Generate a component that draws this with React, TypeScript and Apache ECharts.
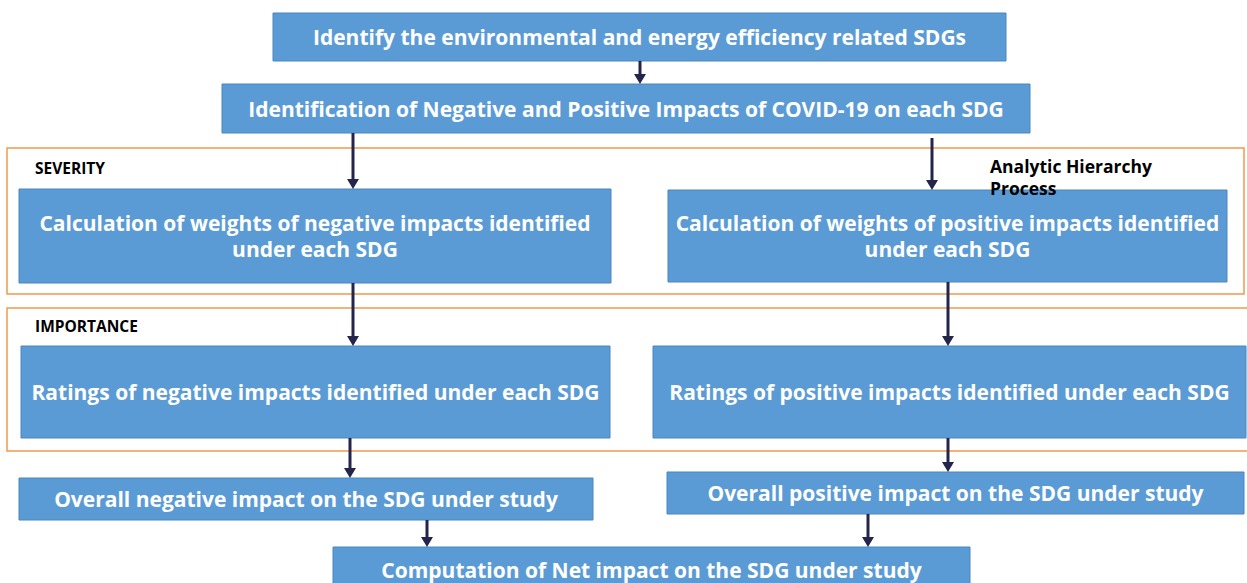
import React, { useEffect, useRef } from "react";
import * as echarts from "echarts";

// Flowchart content
const boxTexts: string[][] = [
  ["Identify the environmental and energy efficiency related SDGs"],
  ["Identification of Negative and Positive Impacts of COVID-19 on each SDG"],
  ["Calculation of weights of negative impacts identified", "under each SDG"],
  ["Calculation of weights of positive impacts identified", "under each SDG"],
  ["Ratings of negative impacts identified under each SDG"],
  ["Ratings of positive impacts identified under each SDG"],
  ["Overall negative impact on the SDG under study"],
  ["Overall positive impact on the SDG under study"],
  ["Computation of Net impact on the SDG under study"],
];
const groupLabels: string[] = ["SEVERITY", "IMPORTANCE"];
const sideNote: string[] = ["Analytic Hierarchy", "Process"];

// layout (x, y, w, h) for each box
const boxLayout: number[][] = [
  [273, 13, 733, 48],
  [222, 84, 808, 49],
  [19, 189, 592, 94],
  [668, 190, 559, 92],
  [21, 346, 589, 92],
  [653, 346, 593, 92],
  [19, 478, 574, 42],
  [667, 472, 577, 42],
  [333, 547, 637, 45],
];
// arrows: x, y1, y2
const arrowLayout: number[][] = [
  [640, 61, 84],
  [353, 133, 189],
  [932, 138, 190],
  [353, 283, 346],
  [948, 282, 346],
  [350, 438, 478],
  [948, 438, 472],
  [427, 520, 547],
  [868, 514, 547],
];

const BOX = "#5B9BD5";
const BOX_STROKE = "#4A86BF";
const ARROW = "#23254A";
const ORANGE = "#F4984C";
const FONT = "'Open Sans', sans-serif";

export default function App() {
  const ref = useRef<HTMLDivElement>(null);
  useEffect(() => {
    document.body.style.margin = "0";
    if (!ref.current) return;
    const chart = echarts.init(ref.current, undefined, { renderer: "svg" });
    const elements: any[] = [];

    // orange group frames
    elements.push({
      type: "rect",
      shape: { x: 7, y: 148, width: 1237, height: 146 },
      style: { fill: "none", stroke: ORANGE, lineWidth: 1.5 },
    });
    elements.push({
      type: "rect",
      shape: { x: 7, y: 308, width: 1260, height: 143 },
      style: { fill: "none", stroke: ORANGE, lineWidth: 1.5 },
    });
    elements.push({
      type: "text",
      style: { text: groupLabels[0], x: 35, y: 168, fill: "#000", font: `bold 15.5px ${FONT}`, verticalAlign: "middle", textVerticalAlign: "middle" },
    });
    elements.push({
      type: "text",
      style: { text: groupLabels[1], x: 35, y: 326, fill: "#000", font: `bold 15.5px ${FONT}`, verticalAlign: "middle", textVerticalAlign: "middle" },
    });

    boxLayout.forEach((b, i) => {
      const [x, y, w, h] = b;
      elements.push({
        type: "rect",
        shape: { x, y, width: w, height: h },
        style: { fill: BOX, stroke: BOX_STROKE, lineWidth: 1 },
      });
      const lines = boxTexts[i];
      const lh = 26;
      const cy = y + h / 2;
      lines.forEach((t, j) => {
        elements.push({
          type: "text",
          style: {
            text: t,
            x: x + w / 2,
            y: cy + (j - (lines.length - 1) / 2) * lh,
            fill: "#fff",
            font: `bold 21px ${FONT}`,
            align: "center",
            verticalAlign: "middle",
            textAlign: "center",
            textVerticalAlign: "middle",
          },
        });
      });
    });

    sideNote.forEach((t, j) => {
      elements.push({
        type: "text",
        z: 10,
        style: { text: t, x: 990, y: 166 + j * 22, fill: "#000", font: `bold 17.5px ${FONT}`, verticalAlign: "middle", textVerticalAlign: "middle" },
      });
    });

    arrowLayout.forEach((a) => {
      const [x, y1, y2] = a;
      elements.push({
        type: "line",
        shape: { x1: x, y1, x2: x, y2: y2 - 8 },
        style: { stroke: ARROW, lineWidth: 3 },
      });
      elements.push({
        type: "polygon",
        shape: { points: [[x - 6, y2 - 10], [x + 6, y2 - 10], [x, y2]] },
        style: { fill: ARROW },
      });
    });

    chart.setOption({ animation: false, graphic: { elements } });
    return () => chart.dispose();
  }, []);
  return <div ref={ref} style={{ width: 1247, height: 583, background: "#fff" }} />;
}
